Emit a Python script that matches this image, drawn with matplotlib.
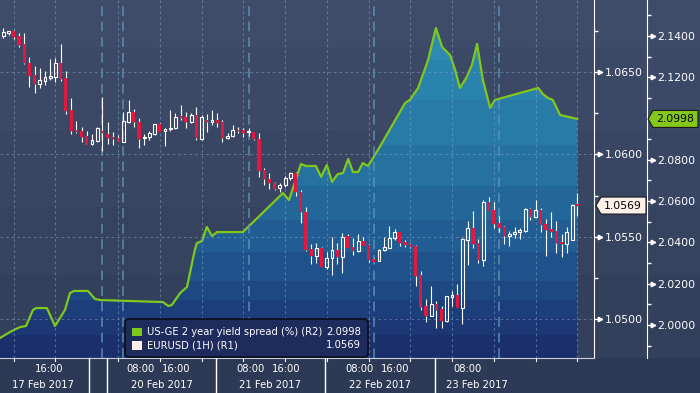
import numpy as np
import matplotlib
matplotlib.use("Agg")
import matplotlib.pyplot as plt
from matplotlib.colors import to_rgb
from matplotlib.patches import Polygon, FancyBboxPatch, Rectangle
from matplotlib.lines import Line2D
from matplotlib.transforms import IdentityTransform

plt.rcParams['font.family'] = ['DejaVu Sans']

# ---------------- data ----------------
eur_open = [1.06718, 1.06738, 1.06748, 1.06718, 1.06669, 1.06552, 1.06481, 1.06427, 1.06447, 1.06461,
            1.06471, 1.06556, 1.06465, 1.06269, 1.06148, 1.06142, 1.06114, 1.06061, 1.06083, 1.06142,
            1.06122, 1.06106, 1.06101, 1.06077, 1.06198, 1.06259, 1.06195, 1.06098, 1.06104, 1.06124,
            1.06183, 1.06142, 1.06152, 1.06158, 1.06229, 1.06225, 1.06198, 1.06239, 1.06094, 1.06209,
            1.06198, 1.06209, 1.06195, 1.06098, 1.06112, 1.06148, 1.06148, 1.06134, 1.06134, 1.06092,
            1.05906, 1.05849, 1.05829, 1.05795, 1.05815, 1.05855, 1.05887, 1.05774, 1.05653, 1.05427,
            1.05386, 1.05431, 1.05320, 1.05370, 1.05421, 1.05377, 1.05506, 1.05441, 1.05415, 1.05475,
            1.05451, 1.05366, 1.05356, 1.05421, 1.05435, 1.05492, 1.05530, 1.05471, 1.05457, 1.05445,
            1.05269, 1.05083, 1.05023, 1.05094, 1.05063, 1.04990, 1.05138, 1.05148, 1.05071, 1.05481,
            1.05556, 1.05465, 1.05360, 1.05710, 1.05663, 1.05583, 1.05562, 1.05507, 1.05516, 1.05528,
            1.05536, 1.05669, 1.05623, 1.05663, 1.05577, 1.05548, 1.05536, 1.05467, 1.05457, 1.05481,
            1.05694]
eur_high = [1.06765, 1.06746, 1.06754, 1.06734, 1.06734, 1.06589, 1.06536, 1.06522, 1.06507, 1.06578,
            1.06583, 1.06669, 1.06506, 1.06342, 1.06204, 1.06168, 1.06142, 1.06122, 1.06168, 1.06350,
            1.06198, 1.06138, 1.06118, 1.06259, 1.06330, 1.06274, 1.06223, 1.06122, 1.06144, 1.06183,
            1.06192, 1.06158, 1.06269, 1.06249, 1.06300, 1.06259, 1.06253, 1.06286, 1.06239, 1.06245,
            1.06269, 1.06253, 1.06209, 1.06128, 1.06178, 1.06168, 1.06158, 1.06158, 1.06138, 1.06128,
            1.05916, 1.05886, 1.05835, 1.05825, 1.05869, 1.05895, 1.05893, 1.05784, 1.05683, 1.05455,
            1.05461, 1.05439, 1.05407, 1.05501, 1.05461, 1.05522, 1.05516, 1.05492, 1.05520, 1.05501,
            1.05455, 1.05370, 1.05427, 1.05501, 1.05566, 1.05548, 1.05532, 1.05481, 1.05461, 1.05451,
            1.05294, 1.05124, 1.05204, 1.05112, 1.05083, 1.05142, 1.05172, 1.05215, 1.05495, 1.05597,
            1.05657, 1.05486, 1.05724, 1.05740, 1.05710, 1.05629, 1.05568, 1.05536, 1.05558, 1.05556,
            1.05677, 1.05673, 1.05724, 1.05673, 1.05609, 1.05649, 1.05597, 1.05516, 1.05558, 1.05700,
            1.05764]
eur_low = [1.06704, 1.06724, 1.06698, 1.06653, 1.06548, 1.06411, 1.06374, 1.06404, 1.06421, 1.06451,
           1.06441, 1.06445, 1.06243, 1.06124, 1.06132, 1.06077, 1.06057, 1.06057, 1.06077, 1.06023,
           1.06061, 1.06057, 1.06074, 1.06074, 1.06189, 1.06168, 1.06037, 1.06057, 1.06087, 1.06118,
           1.06134, 1.06051, 1.06144, 1.06154, 1.06209, 1.06162, 1.06192, 1.06087, 1.06087, 1.06138,
           1.06178, 1.06168, 1.06077, 1.06092, 1.06107, 1.06128, 1.06107, 1.06112, 1.06087, 1.05865,
           1.05815, 1.05789, 1.05784, 1.05774, 1.05804, 1.05845, 1.05750, 1.05583, 1.05415, 1.05334,
           1.05340, 1.05318, 1.05306, 1.05269, 1.05334, 1.05283, 1.05431, 1.05390, 1.05407, 1.05445,
           1.05346, 1.05346, 1.05354, 1.05415, 1.05431, 1.05481, 1.05447, 1.05441, 1.05435, 1.05204,
           1.05057, 1.04986, 1.05021, 1.04950, 1.04946, 1.04983, 1.05083, 1.05071, 1.04970, 1.05330,
           1.05431, 1.05340, 1.05326, 1.05657, 1.05556, 1.05528, 1.05457, 1.05447, 1.05492, 1.05486,
           1.05532, 1.05603, 1.05623, 1.05532, 1.05386, 1.05501, 1.05401, 1.05380, 1.05404, 1.05481,
           1.05627]
eur_close = [1.06740, 1.06746, 1.06714, 1.06663, 1.06552, 1.06477, 1.06427, 1.06451, 1.06469, 1.06475,
             1.06556, 1.06455, 1.06265, 1.06144, 1.06136, 1.06107, 1.06057, 1.06087, 1.06158, 1.06128,
             1.06101, 1.06095, 1.06077, 1.06203, 1.06259, 1.06195, 1.06094, 1.06107, 1.06132, 1.06183,
             1.06138, 1.06152, 1.06162, 1.06225, 1.06223, 1.06198, 1.06239, 1.06098, 1.06227, 1.06198,
             1.06209, 1.06189, 1.06098, 1.06112, 1.06148, 1.06142, 1.06132, 1.06138, 1.06092, 1.05901,
             1.05849, 1.05825, 1.05790, 1.05815, 1.05855, 1.05889, 1.05774, 1.05653, 1.05421, 1.05384,
             1.05431, 1.05320, 1.05370, 1.05421, 1.05377, 1.05501, 1.05435, 1.05417, 1.05475, 1.05447,
             1.05360, 1.05350, 1.05421, 1.05441, 1.05495, 1.05532, 1.05466, 1.05451, 1.05441, 1.05265,
             1.05077, 1.05023, 1.05094, 1.05057, 1.04990, 1.05142, 1.05148, 1.05071, 1.05487, 1.05556,
             1.05455, 1.05360, 1.05714, 1.05657, 1.05577, 1.05556, 1.05507, 1.05516, 1.05528, 1.05542,
             1.05669, 1.05623, 1.05663, 1.05572, 1.05542, 1.05532, 1.05461, 1.05457, 1.05528, 1.05694,
             1.05690]

spread_x = [-0.63, 1.28, 3.2, 4.35, 5.69, 6.27, 8.37, 9.91, 10.87, 11.82, 12.78, 13.55, 16.23, 17.57,
            18.53, 30.6, 31.6, 32.3, 33.9, 35.2, 36.7, 37.1, 38.1, 39.0, 40.0, 40.95, 45.9, 53.6, 54.75,
            57.05, 58.0, 59.9, 60.9, 62.0, 63.0, 64.1, 65.1, 66.1, 67.0, 68.0, 68.9, 69.9, 71.8, 77.0,
            77.9, 79.5, 81.4, 82.9, 84.1, 85.6, 86.6, 87.5, 88.7, 89.8, 90.8, 91.9, 92.9, 93.3, 94.2,
            102.5, 103.4, 104.4, 105.3, 106.7, 110.0]
spread_v = [1.9937, 1.9966, 1.9990, 1.9995, 2.0073, 2.0082, 2.0082, 1.9995, 2.0034, 2.0073, 2.0155,
            2.0165, 2.0165, 2.0126, 2.0121, 2.0111, 2.0092, 2.0097, 2.0155, 2.0184, 2.0363, 2.0397,
            2.0407, 2.0475, 2.0431, 2.0450, 2.0450, 2.0639, 2.0605, 2.0780, 2.0770, 2.0770, 2.0717,
            2.0775, 2.0693, 2.0731, 2.0736, 2.0804, 2.0741, 2.0741, 2.0785, 2.0770, 2.0848, 2.1075,
            2.1090, 2.1148, 2.1283, 2.1438, 2.1346, 2.1308, 2.1235, 2.1148, 2.1196, 2.1259, 2.1361,
            2.1187, 2.1090, 2.1051, 2.1090, 2.1148, 2.1119, 2.1099, 2.1090, 2.1017, 2.0998]

r1_major = [1.0500, 1.0550, 1.0600, 1.0650]
r1_minor = [1.0525, 1.0575, 1.0625, 1.0675]
r2_major = [2.00, 2.02, 2.04, 2.06, 2.08, 2.10, 2.12, 2.14]
r2_minor = [1.99, 2.01, 2.03, 2.05, 2.07, 2.09, 2.11, 2.13, 2.15]

time_labels = ['16:00', '08:00', '16:00', '08:00', '16:00', '08:00', '16:00', '08:00']
time_pos = [8.8, 26.3, 33.2, 47.3, 54.2, 68.2, 75.1, 89.0]
date_labels = ['17 Feb 2017', '20 Feb 2017', '21 Feb 2017', '22 Feb 2017', '23 Feb 2017']
date_pos = [7.7, 30.4, 51.2, 72.2, 90.7]
day_breaks = [16.4, 19.9, 40.8, 61.6, 82.7]
grid_x = [2, 10, 22, 30, 38, 46, 54, 62, 70, 78, 86, 94, 102, 110]
session_x = [19, 23, 47, 71, 95]

legend_names = ['US-GE 2 year yield spread (%) (R2)', 'EURUSD (1H) (R1)']

# ---------------- layout ----------------
FW, FH = 700, 393
PR, PB = 594, 358
ID = IdentityTransform()
fig = plt.figure(figsize=(FW / 100, FH / 100), dpi=100)
fig.patch.set_facecolor('#2e3b57')

def band_image(edges, cols, n):
    img = np.zeros((n, 1, 3))
    for i, c in enumerate(cols):
        img[edges[i]:edges[i + 1], 0, :] = to_rgb(c)
    return img

bg = fig.add_axes([0, 0, 1, 1])
bg.set_axis_off()
bg.imshow(band_image([0, 47, 130, 207, 275, 358, 393],
                     ['#3f4c69', '#3c4966', '#394663', '#36435f', '#33405c', '#2d3a56'], FH),
          extent=[0, 1, 0, 1], aspect='auto', origin='upper', interpolation='nearest')
bg.set_xlim(0, 1); bg.set_ylim(0, 1)

# R2 axes (spread), drawn underneath
ax = fig.add_axes([0, (FH - PB) / FH, PR / FW, PB / FH])
ax.patch.set_visible(False)
xlim = (-0.63, 113.2)
r2lim = (1.98402, 2.15740)
r1lim = (1.04766, 1.06936)
ax.set_xlim(*xlim)
ax.set_ylim(*r2lim)

ybot = r2lim[0]
coll = ax.fill_between(spread_x, spread_v, ybot, facecolor='none', edgecolor='none')
fill_edges = [0, 60, 100, 145, 186, 220, 252, 281, 300, 318, 335, 358]
fill_cols = ['#2d8bb3', '#2a83ad', '#287aa7', '#2571a0', '#236799', '#215d92', '#1f528a',
             '#1d4882', '#1c3f7b', '#1c3774', '#1b2f6c']
im = ax.imshow(band_image(fill_edges, fill_cols, PB), extent=[*xlim, *r2lim],
               aspect='auto', origin='upper', interpolation='nearest', zorder=1)
im.set_clip_path(coll.get_paths()[0], transform=ax.transData)
ax.plot(spread_x, spread_v, color='#80c81a', lw=1.6, zorder=3, solid_joinstyle='round')
ax.set_xlim(*xlim)
ax.set_ylim(*r2lim)

# R1 axes (candles), on top
ax1 = ax.twinx()
ax1.set_xlim(*xlim)
ax1.set_ylim(*r1lim)

# configure R2 axis (after twinx, which moves its ticks to the left)
for s in ['left', 'top', 'bottom']:
    ax.spines[s].set_visible(False)
ax.spines['right'].set_visible(True)
ax.spines['right'].set_position(('outward', 53 * 0.72))
ax.spines['right'].set_color('white')
ax.yaxis.tick_right()
ax.yaxis.set_label_position('right')
ax.set_yticks(r2_major)
ax.set_yticks(r2_minor, minor=True)
# the 2.1000 label sits under the last-value tag in the reference, so it is left blank
ax.set_yticklabels(['' if abs(v - 2.10) < 1e-9 else f'{v:.4f}' for v in r2_major])
ax.tick_params(axis='y', which='both', colors='white', direction='out', width=1,
               left=False, labelleft=False, right=True, labelright=True)
ax.tick_params(axis='y', which='major', length=4, pad=3.6, labelsize=7.8)
ax.tick_params(axis='y', which='minor', length=3)
ax.set_xticks([])

for s in ['left', 'top']:
    ax1.spines[s].set_visible(False)
ax1.spines['right'].set_color('white')
ax1.spines['bottom'].set_color('#c9ced8')
ax1.spines['bottom'].set_linewidth(0.8)
ax1.set_yticks(r1_major)
ax1.set_yticks(r1_minor, minor=True)
ax1.set_yticklabels([f'{v:.4f}' for v in r1_major])
ax1.tick_params(axis='y', which='both', colors='white', direction='out', width=1)
ax1.tick_params(axis='y', which='major', length=4, pad=3.6, labelsize=7.8)
ax1.tick_params(axis='y', which='minor', length=3)
ax1.set_xticks([])

for v in r1_major:
    ax1.axhline(v, color='#7fa6c6', alpha=0.5, lw=0.8, ls=(0, (2.5, 2.5)), zorder=1)
for x in grid_x:
    ax1.axvline(x, color='#7fa6c6', alpha=0.5, lw=0.8, ls=(0, (2.5, 2.5)), zorder=1)
for x in session_x:
    ax1.axvline(x, color='#5f95b8', alpha=0.7, lw=1.4, ls=(0, (5, 3)), zorder=1)

o = np.array(eur_open); h = np.array(eur_high); l = np.array(eur_low); c = np.array(eur_close)
xi = np.arange(len(o))
up = c >= o
blo = np.minimum(o, c); bhi = np.maximum(o, c)
hgt = np.maximum(bhi - blo, 0.00009)
ax1.vlines(xi, bhi, h, color='white', lw=0.8, zorder=3)
ax1.vlines(xi, l, blo, color='white', lw=0.8, zorder=3)
ax1.bar(xi[~up], hgt[~up], bottom=blo[~up], width=0.6, color='#e2193f', lw=0, zorder=4)
ax1.bar(xi[up], hgt[up], bottom=blo[up], width=0.55, facecolor='none', edgecolor='white',
        lw=0.8, zorder=4)
ax1.set_xlim(*xlim)
ax1.set_ylim(*r1lim)

# tick arrows
def ydisp(a, v):
    return a.transData.transform((0, v))[1]

def xdisp(v):
    return ax.transData.transform((v, 0))[0]

for v in r1_major:
    fig.add_artist(Line2D([PR + 5.5], [ydisp(ax1, v)], marker='>', ms=3.2, color='white',
                          ls='none', transform=ID, zorder=6))
for v in r2_major:
    fig.add_artist(Line2D([647 + 5.5], [ydisp(ax, v)], marker='>', ms=3.2, color='white',
                          ls='none', transform=ID, zorder=6))

# last value tags
def tag(x0, x1, yc, fc, txt, tx):
    verts = [(x0, yc), (x0 + 5, yc + 8.5), (x1, yc + 8.5), (x1, yc - 8.5), (x0 + 5, yc - 8.5)]
    fig.add_artist(Polygon(verts, closed=True, transform=ID, facecolor=fc, edgecolor='#1a1a1a',
                           lw=0.8, zorder=10))
    fig.text(tx, yc, txt, transform=ID, ha='left', va='center', fontsize=7.8, color='black',
             zorder=11)

tag(648, 698, ydisp(ax, spread_v[-1]), '#84c91a', f'{spread_v[-1]:.4f}', 656)
tag(596, 646, ydisp(ax1, eur_close[-1]), '#fdf0ea', f'{eur_close[-1]:.4f}', 604)

# legend
fig.add_artist(FancyBboxPatch((125, FH - 357), 243, 38, boxstyle='round,pad=0,rounding_size=4',
                              transform=ID, facecolor='#1e2b5d', edgecolor='#0b0e18', lw=1.2,
                              zorder=10))
leg_vals = [f'{spread_v[-1]:.4f}', f'{eur_close[-1]:.4f}']
leg_cols = ['#80c81a', '#fdf0ea']
for i, (name, val, col) in enumerate(zip(legend_names, leg_vals, leg_cols)):
    yc = FH - (332 + 13.5 * i)
    fig.add_artist(Rectangle((132.3, yc - 4.2), 9.4, 8.4, transform=ID, facecolor=col,
                             edgecolor='none', zorder=11))
    fig.text(146.7, yc, name, transform=ID, ha='left', va='center', fontsize=7.2,
             color='white', zorder=11)
    fig.text(360.7, yc, val, transform=ID, ha='right', va='center', fontsize=7.2,
             color='white', zorder=11)

# x axis strip
for x in day_breaks:
    fig.add_artist(Line2D([xdisp(x)] * 2, [0, FH - PB], color='white', lw=1, transform=ID,
                          zorder=6))
for x in grid_x:
    fig.add_artist(Line2D([xdisp(x)] * 2, [FH - PB - 3, FH - PB], color='white', lw=0.8,
                          transform=ID, zorder=6))
for s, x in zip(time_labels, time_pos):
    fig.text(xdisp(x), FH - 369.5, s, transform=ID, ha='center', va='center', fontsize=7.2,
             color='white')
for s, x in zip(date_labels, date_pos):
    fig.text(xdisp(x), FH - 384.5, s, transform=ID, ha='center', va='center', fontsize=7.2,
             color='white')

fig.savefig('out.png', dpi=100, facecolor=fig.get_facecolor())
